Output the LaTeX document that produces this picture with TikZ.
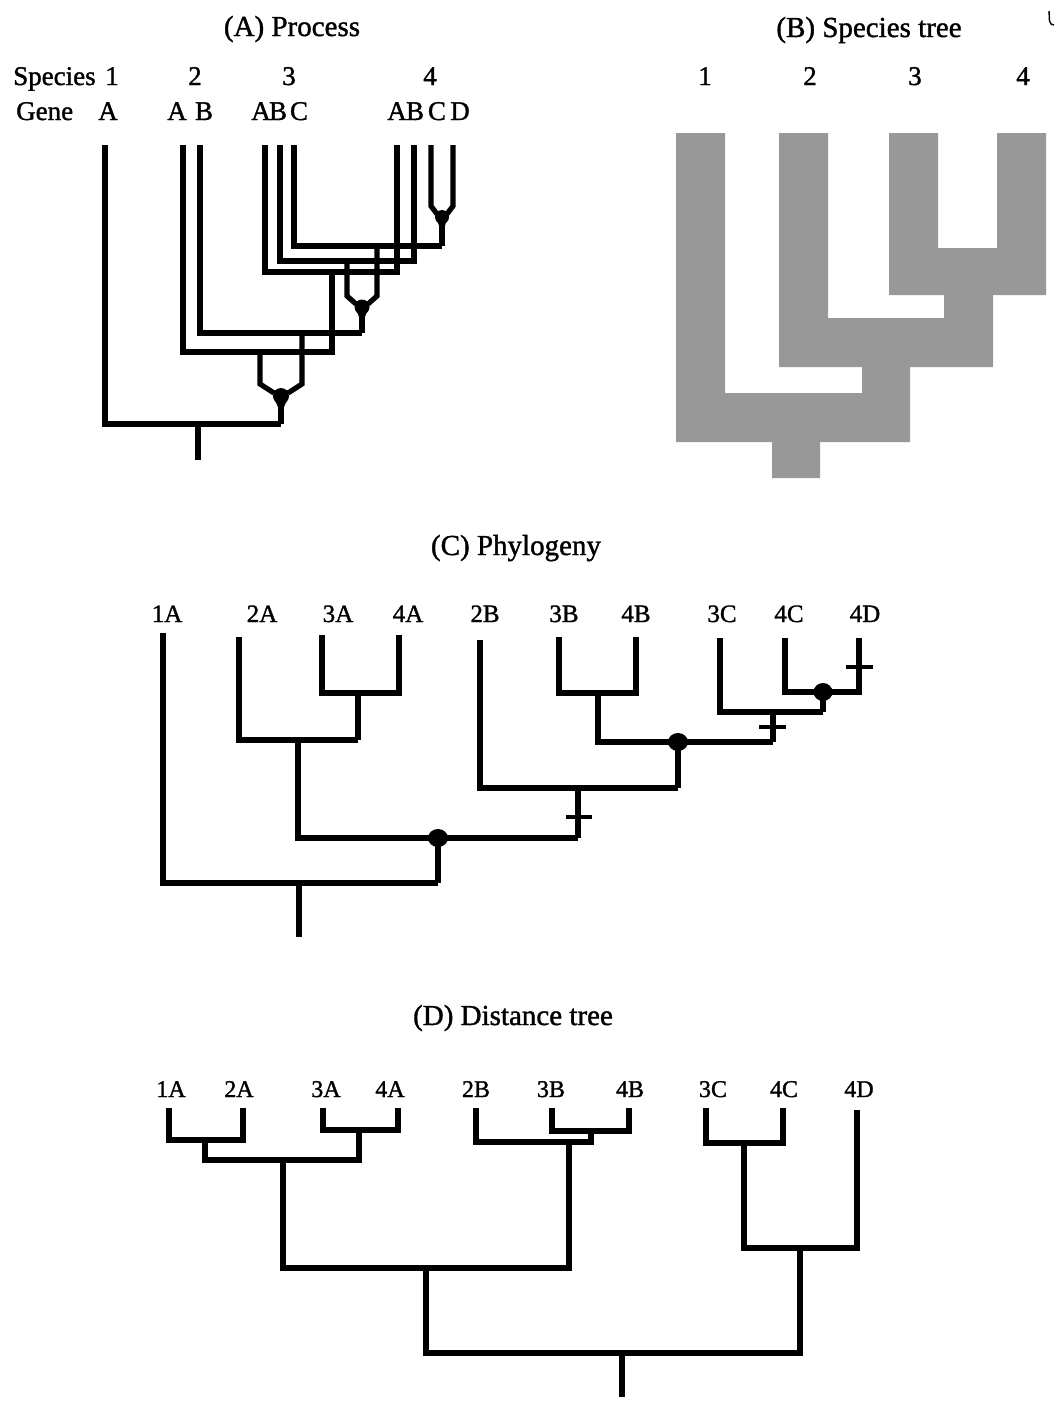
\documentclass[tikz,border=0pt]{standalone}
\usepackage{fontspec}
\setmainfont{Liberation Serif}[BoldFont=Liberation Serif, BoldFeatures={FakeBold=1.3}]
\begin{document}
\begin{tikzpicture}[x=1pt,y=-1pt,
  ln/.style={line width=5.2pt, line join=miter},
  lnC/.style={line width=6pt, line join=miter},
  lnD/.style={line width=5.6pt, line join=miter},
  tickmark/.style={line width=3.4pt},
  ttl/.style={font=\fontsize{29}{34}\selectfont\bfseries, anchor=base, inner sep=0pt},
  lbl/.style={font=\fontsize{27}{30}\selectfont\bfseries, anchor=base, inner sep=0pt},
  lbC/.style={font=\fontsize{25}{30}\selectfont\bfseries, anchor=base, inner sep=0pt},
  lbD/.style={font=\fontsize{24}{28}\selectfont\bfseries, anchor=base, inner sep=0pt},
  spgray/.style={fill={rgb,255:red,152;green,152;blue,152}}
]
\useasboundingbox (0,0) rectangle (1055,1401);

% ================= (A) Process =================
\node[ttl] (tA) at (292,36) {(A) Process};
\node[lbl, anchor=base west] (spA) at (13,85) {Species};
\node[lbl] (sp1) at (112,85) {1};
\node[lbl] (sp2) at (195,85) {2};
\node[lbl] (sp3) at (289,85) {3};
\node[lbl] (sp4) at (430,85) {4};
\node[lbl, anchor=base west] (gnA) at (16,120) {Gene};
\node[lbl] (g1A) at (108,120) {A};
\node[lbl] (g2A) at (177,120) {A};
\node[lbl] (g2B) at (204,120) {B};
\node[lbl] (g3A) at (261,120) {A};
\node[lbl] (g3B) at (278,120) {B};
\node[lbl] (g3C) at (299,120) {C};
\node[lbl] (g4A) at (397,120) {A};
\node[lbl] (g4B) at (415,120) {B};
\node[lbl] (g4C) at (437,120) {C};
\node[lbl] (g4D) at (460,120) {D};

\coordinate (A1A) at (105,145);
\coordinate (A2A) at (183,145);
\coordinate (A2B) at (200,145);
\coordinate (A3A) at (265,145);
\coordinate (A3B) at (280,145);
\coordinate (A3C) at (294,145);
\coordinate (A4A) at (397,145);
\coordinate (A4B) at (414,145);
\coordinate (A4C) at (431,145);
\coordinate (A4D) at (453,145);
\coordinate (AdA) at (281,396);
\coordinate (AdB) at (362,307);
\coordinate (AdC) at (442,217);
\coordinate (AjRoot) at (281,424);
\coordinate (ArootJ) at (198,424);
\coordinate (Aroot) at (198,460);
\coordinate (AjA) at (332,352);
\coordinate (AjA34) at (332,272);
\coordinate (AjB) at (362,333);
\coordinate (AbL) at (347,261);
\coordinate (AbR) at (377,246);
\coordinate (AjC) at (442,246);
\coordinate (AaL) at (260,352);
\coordinate (AaR) at (302,333);

\draw[ln] (A1A) |- (AjRoot);
\draw[ln] (AdA) -- (AjRoot);
\draw[ln] (ArootJ) -- (Aroot);
\draw[ln] (A2A) |- (AjA) -- (AjA34);
\draw[ln] (A3A) |- (AjA34);
\draw[ln] (A4A) |- (AjA34);
\draw[ln] (A2B) |- (AjB);
\draw[ln] (AdB) -- (AjB);
\draw[ln] (A3B) |- (AbL);
\draw[ln] (A4B) |- (AbL);
\draw[ln] (A3C) |- (AjC);
\draw[ln] (AdC) -- (AjC);
% duplication A -> A,B
\draw[ln] (AaL) -- (260,384) -- (274,393);
\draw[ln] (AaR) -- (302,384) -- (288,393);
\fill (AdA) circle[radius=8];
\fill (273,396) -- (289,396) -- (283.5,408) -- (278.5,408) -- cycle;
% duplication B -> B,C
\draw[ln] (AbL) -- (347,296) -- (356,304);
\draw[ln] (AbR) -- (377,296) -- (368,304);
\fill (AdB) circle[radius=7.5];
\fill (355,307) -- (369,307) -- (364.5,318) -- (359.5,318) -- cycle;
% duplication C -> C,D
\draw[ln] (A4C) -- (431,206) -- (437,214);
\draw[ln] (A4D) -- (453,206) -- (447,214);
\fill (AdC) circle[radius=7];
\fill (436,217) -- (448,217) -- (444.5,227) -- (439.5,227) -- cycle;

% ================= (B) Species tree =================
\node[ttl] (tB) at (869,37) {(B) Species tree};
\node[lbl] (b1) at (705,85) {1};
\node[lbl] (b2) at (810,85) {2};
\node[lbl] (b3) at (915,85) {3};
\node[lbl] (b4) at (1023,85) {4};
\fill[spgray] (676,133) -- (725,133) -- (725,393) -- (862,393) -- (862,367)
  -- (779,367) -- (779,133) -- (828,133) -- (828,318) -- (944,318) -- (944,295)
  -- (889,295) -- (889,133) -- (938,133) -- (938,248) -- (997,248) -- (997,133)
  -- (1046,133) -- (1046,295) -- (993,295) -- (993,367) -- (910,367) -- (910,442)
  -- (820,442) -- (820,478) -- (772,478) -- (772,442) -- (676,442) -- cycle;
\draw[line width=1.4pt] (1049,11) -- (1049.5,21) .. controls (1050,24) and (1052,25) .. (1054,25);

% ================= (C) Phylogeny =================
\node[ttl] (tC) at (516,555) {(C) Phylogeny};
\node[lbC] (l1A) at (167,622) {1A};
\node[lbC] (l2A) at (262,622) {2A};
\node[lbC] (l3A) at (338,622) {3A};
\node[lbC] (l4A) at (408,622) {4A};
\node[lbC] (l2B) at (485,622) {2B};
\node[lbC] (l3B) at (564,622) {3B};
\node[lbC] (l4B) at (636,622) {4B};
\node[lbC] (l3C) at (722,622) {3C};
\node[lbC] (l4C) at (789,622) {4C};
\node[lbC] (l4D) at (865,622) {4D};

\coordinate (C1A) at (163,633);
\coordinate (C2A) at (239,637);
\coordinate (C3A) at (322,635);
\coordinate (C4A) at (399,635);
\coordinate (C2B) at (480,640);
\coordinate (C3B) at (559,637);
\coordinate (C4B) at (636,637);
\coordinate (C3C) at (720,638);
\coordinate (C4C) at (785,638);
\coordinate (C4D) at (859,638);
\coordinate (Cj34A) at (358,693);
\coordinate (Cj34Ab) at (358,740);
\coordinate (Cj2A) at (298,740);
\coordinate (CdA) at (438,838);
\coordinate (CjR) at (438,883);
\coordinate (CrootJ) at (299,883);
\coordinate (Croot) at (299,937);
\coordinate (CjB2) at (578,838);
\coordinate (Cn2B) at (578,788);
\coordinate (CnB) at (678,788);
\coordinate (CdB) at (678,742);
\coordinate (Cj34B) at (598,693);
\coordinate (CnC) at (773,742);
\coordinate (CjC) at (773,712);
\coordinate (CjCD) at (823,712);
\coordinate (CdC) at (823,692);

\draw[lnC] (C1A) |- (CjR);
\draw[lnC] (CdA) -- (CjR);
\draw[lnC] (CrootJ) -- (Croot);
\draw[lnC] (C3A) |- (Cj34A);
\draw[lnC] (C4A) |- (Cj34A);
\draw[lnC] (Cj34A) -- (Cj34Ab);
\draw[lnC] (C2A) |- (Cj34Ab);
\draw[lnC] (Cj2A) |- (CjB2);
\draw[lnC] (CjB2) -- (Cn2B);
\draw[lnC] (C2B) |- (CnB);
\draw[lnC] (CdB) -- (CnB);
\draw[lnC] (C3B) |- (Cj34B);
\draw[lnC] (C4B) |- (Cj34B);
\draw[lnC] (Cj34B) |- (CnC);
\draw[lnC] (CnC) -- (CjC);
\draw[lnC] (C3C) |- (CjCD);
\draw[lnC] (CdC) -- (CjCD);
\draw[lnC] (C4C) |- (CdC) -| (C4D);
\fill (CdA) ellipse[x radius=10, y radius=9];
\fill (CdB) ellipse[x radius=10, y radius=9];
\fill (CdC) ellipse[x radius=9.5, y radius=9];
\draw[tickmark] (566,817) -- (592,817);
\draw[tickmark] (759,727) -- (786,727);
\draw[tickmark] (846,667) -- (873,667);

% ================= (D) Distance tree =================
\node[ttl] (tD) at (513,1025) {(D) Distance tree};
\node[lbD] (m1A) at (171,1097) {1A};
\node[lbD] (m2A) at (239,1097) {2A};
\node[lbD] (m3A) at (326,1097) {3A};
\node[lbD] (m4A) at (390,1097) {4A};
\node[lbD] (m2B) at (476,1097) {2B};
\node[lbD] (m3B) at (551,1097) {3B};
\node[lbD] (m4B) at (630,1097) {4B};
\node[lbD] (m3C) at (713,1097) {3C};
\node[lbD] (m4C) at (784,1097) {4C};
\node[lbD] (m4D) at (859,1097) {4D};

\coordinate (D1A) at (169,1108);
\coordinate (D2A) at (243,1108);
\coordinate (D3A) at (323,1108);
\coordinate (D4A) at (398,1108);
\coordinate (D2B) at (476,1108);
\coordinate (D3B) at (552,1108);
\coordinate (D4B) at (629,1108);
\coordinate (D3C) at (706,1108);
\coordinate (D4C) at (783,1108);
\coordinate (D4D) at (857,1110);
\coordinate (Dn12) at (205,1140);
\coordinate (Dn34) at (359,1130);
\coordinate (Dn1234) at (283,1160);
\coordinate (DnB34) at (591,1131);
\coordinate (DnB) at (569,1142);
\coordinate (DnAB) at (426,1268);
\coordinate (DnC) at (744,1143);
\coordinate (DnCD) at (800,1248);
\coordinate (Droot) at (622,1353);
\coordinate (DrootE) at (622,1397);

\draw[lnD] (D1A) |- (Dn12) -| (D2A);
\draw[lnD] (D3A) |- (Dn34) -| (D4A);
\draw[lnD] (Dn12) |- (Dn1234) -| (Dn34);
\draw[lnD] (D3B) |- (DnB34) -| (D4B);
\draw[lnD] (D2B) |- (DnB) -| (DnB34);
\draw[lnD] (Dn1234) |- (DnAB) -| (DnB);
\draw[lnD] (D3C) |- (DnC) -| (D4C);
\draw[lnD] (DnC) |- (DnCD) -| (D4D);
\draw[lnD] (DnAB) |- (Droot) -| (DnCD);
\draw[lnD] (Droot) -- (DrootE);
\end{tikzpicture}
\end{document}
